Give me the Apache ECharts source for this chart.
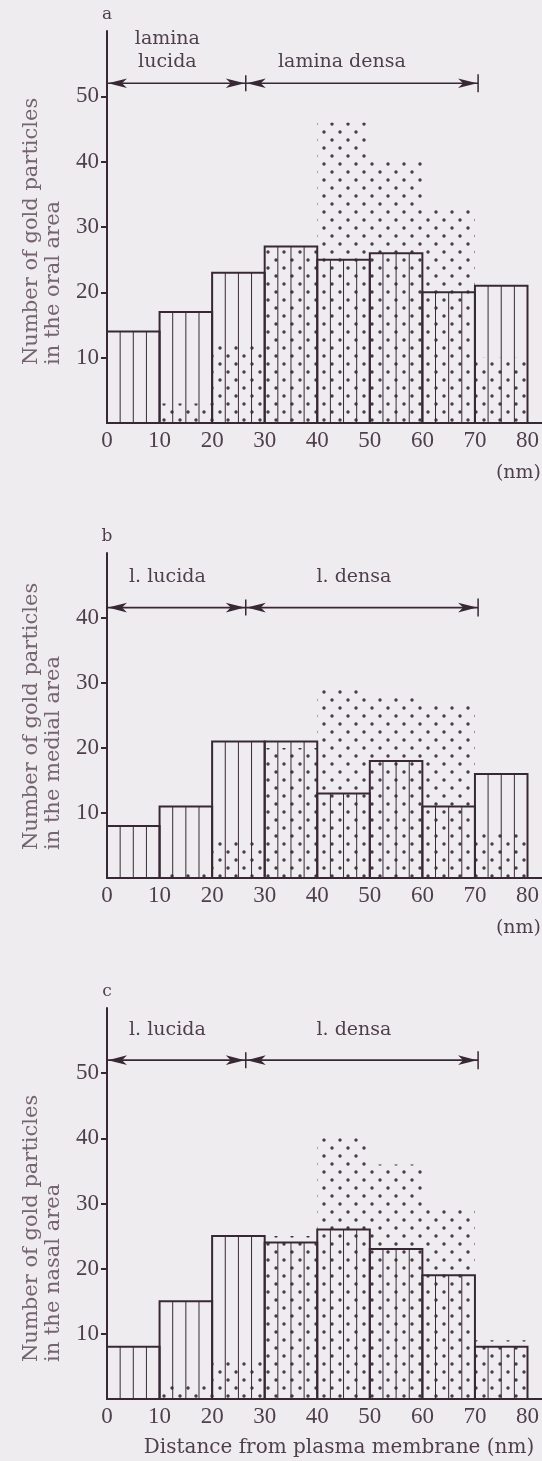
<!DOCTYPE html>
<html>
<head>
<meta charset="utf-8">
<script src="https://cdn.jsdelivr.net/npm/echarts@6/dist/echarts.min.js"></script>
<style>
  html, body { margin: 0; padding: 0; background: #efecef; }
  #chart { width: 542px; height: 1461px; }
</style>
</head>
<body>
<div id="chart"></div>
<script>
// bin edges (nm)
const binEdges = [0, 10, 20, 30, 40, 50, 60, 70, 80];
const xTicks = [0, 10, 20, 30, 40, 50, 60, 70, 80];

// a: oral area
const oralHatched = [14, 17, 23, 27, 25, 26, 20, 21];
const oralDotted = [0, 3, 12, 27, 46, 40, 33, 10];
const oralTicks = [10, 20, 30, 40, 50];

// b: medial area
const medialHatched = [8, 11, 21, 21, 13, 18, 11, 16];
const medialDotted = [0, 1, 6, 20, 29, 28, 27, 7];
const medialTicks = [10, 20, 30, 40];

// c: nasal area
const nasalHatched = [8, 15, 25, 24, 26, 23, 19, 8];
const nasalDotted = [0, 2, 6, 25, 40, 36, 29, 9];
const nasalTicks = [10, 20, 30, 40, 50];

// lamina lucida / lamina densa boundaries (nm) and arrow heights
const zoneEdges = [0, 26.4, 70.6];
const arrowLevels = [52, 41.6, 52];

const ink = '#382835';
const tickInk = '#4f3e4c';
const nameInk = '#76646f';
const bg = '#efecef';

// dotted fill
const tile = document.createElement('canvas');
tile.width = 16; tile.height = 16;
const tctx = tile.getContext('2d');
tctx.fillStyle = '#4a3848';
[[4, 4], [12, 12]].forEach(function (p) {
  tctx.beginPath(); tctx.arc(p[0], p[1], 1.7, 0, Math.PI * 2); tctx.fill();
});
const dotFill = { image: tile, repeat: 'repeat' };

function binData(values) {
  return values.map(function (v, i) { return [binEdges[i], binEdges[i + 1], v]; });
}

function renderHatched(params, api) {
  const p0 = api.coord([api.value(0), 0]);
  const p1 = api.coord([api.value(1), api.value(2)]);
  const w = p1[0] - p0[0];
  const children = [];
  for (let k = 1; k < 4; k++) {
    const x = p0[0] + w * k / 4;
    children.push({ type: 'line', shape: { x1: x, y1: p0[1], x2: x, y2: p1[1] },
      style: { stroke: ink, lineWidth: 1 } });
  }
  children.push({ type: 'rect', shape: { x: p0[0], y: p1[1], width: w, height: p0[1] - p1[1] },
    style: { fill: 'none', stroke: ink, lineWidth: 2 } });
  return { type: 'group', children: children };
}

function renderDotted(params, api) {
  if (!api.value(2)) return null;
  const p0 = api.coord([api.value(0), 0]);
  const p1 = api.coord([api.value(1), api.value(2)]);
  return { type: 'rect', shape: { x: p0[0], y: p1[1], width: p1[0] - p0[0], height: p0[1] - p1[1] },
    style: { fill: dotFill, stroke: null } };
}

function arrowHead(tx, y, dir) {
  const L = 19, h = 4.8, n = 5;
  return { type: 'polygon', shape: { points: [[tx, y], [tx - dir * L, y - h], [tx - dir * (L - n), y], [tx - dir * L, y + h]] },
    style: { fill: ink } };
}

function makeArrowRenderer(labels, gap) {
  return function (params, api) {
    const a = api.coord([api.value(0), api.value(3)]);
    const b = api.coord([api.value(1), api.value(3)]);
    const c = api.coord([api.value(2), api.value(3)]);
    const y = a[1];
    const font = '19px "DejaVu Serif"';
    return { type: 'group', children: [
      { type: 'line', shape: { x1: a[0], y1: y, x2: c[0], y2: y }, style: { stroke: ink, lineWidth: 1.6 } },
      { type: 'line', shape: { x1: b[0], y1: y - 8, x2: b[0], y2: y + 8 }, style: { stroke: ink, lineWidth: 1.5 } },
      { type: 'line', shape: { x1: c[0], y1: y - 9, x2: c[0], y2: y + 9 }, style: { stroke: ink, lineWidth: 1.5 } },
      arrowHead(a[0] + 1, y, -1), arrowHead(b[0] - 1, y, 1), arrowHead(b[0] + 1, y, -1), arrowHead(c[0] - 1, y, 1),
      { type: 'text', x: (a[0] + b[0]) / 2 - 9, y: y - gap,
        style: { text: labels[0], font: font, fill: tickInk, align: 'center', verticalAlign: 'bottom', lineHeight: 23 } },
      { type: 'text', x: (b[0] + c[0]) / 2 + labels[2], y: y - gap,
        style: { text: labels[1], font: font, fill: tickInk, align: 'center', verticalAlign: 'bottom', lineHeight: 23 } }
    ] };
  };
}

const panels = [
  { top: 31, height: 392, max: 60, ticks: oralTicks, hatched: oralHatched, dotted: oralDotted,
    labels: ['lamina\nlucida', 'lamina densa', -20], gap: 10, letter: 'a', area: 'oral' },
  { top: 553, height: 325, max: 50, ticks: medialTicks, hatched: medialHatched, dotted: medialDotted,
    labels: ['l. lucida', 'l. densa', -8], gap: 19, letter: 'b', area: 'medial' },
  { top: 1008, height: 391, max: 60, ticks: nasalTicks, hatched: nasalHatched, dotted: nasalDotted,
    labels: ['l. lucida', 'l. densa', -8], gap: 19, letter: 'c', area: 'nasal' }
];

const left = 107;
const xMax = 82.7;
const numFont = 'Liberation Serif';

const grid = [], xAxis = [], yAxis = [], series = [], graphic = [];
panels.forEach(function (p, i) {
  grid.push({ left: left, right: 0, top: p.top, height: p.height });
  xAxis.push({
    type: 'value', gridIndex: i, min: 0, max: xMax, interval: 10,
    axisLine: { lineStyle: { color: ink, width: 2 } },
    axisTick: { show: false },
    splitLine: { show: false },
    axisLabel: { customValues: xTicks, margin: 6, color: tickInk, fontFamily: numFont, fontSize: 23 }
  });
  yAxis.push({
    type: 'value', gridIndex: i, min: 0, max: p.max, interval: 10,
    axisLine: { show: true, lineStyle: { color: ink, width: 2 } },
    axisTick: { show: true, customValues: p.ticks, length: 6, lineStyle: { color: ink, width: 2 } },
    splitLine: { show: false },
    axisLabel: { customValues: p.ticks, margin: 8, color: tickInk, fontFamily: numFont, fontSize: 23 }
  });
  series.push({
    type: 'custom', xAxisIndex: i, yAxisIndex: i, z: 1,
    renderItem: renderDotted, encode: { x: [0, 1], y: 2 }, data: binData(p.dotted), silent: true
  });
  series.push({
    type: 'custom', xAxisIndex: i, yAxisIndex: i, z: 2,
    renderItem: renderHatched, encode: { x: [0, 1], y: 2 }, data: binData(p.hatched), silent: true
  });
  series.push({
    type: 'custom', xAxisIndex: i, yAxisIndex: i, z: 3,
    renderItem: makeArrowRenderer(p.labels, p.gap), encode: { x: [0, 1, 2], y: 3 },
    data: [[zoneEdges[0], zoneEdges[1], zoneEdges[2], arrowLevels[i]]], silent: true
  });
  graphic.push({ type: 'text', x: left, y: p.top - 8,
    style: { text: p.letter, font: '17px "DejaVu Serif"', fill: tickInk, align: 'center', verticalAlign: 'bottom' } });
});

// y axis titles (two left-aligned lines, rotated)
const nameStarts = [365, 850, 1362];
panels.forEach(function (p, i) {
  graphic.push({ type: 'text', x: 32, y: nameStarts[i], rotation: Math.PI / 2,
    style: { text: 'Number of gold particles', font: '21px "DejaVu Serif"', fill: nameInk, align: 'left', verticalAlign: 'middle' } });
  graphic.push({ type: 'text', x: 54, y: nameStarts[i], rotation: Math.PI / 2,
    style: { text: 'in the ' + p.area + ' area', font: '21px "DejaVu Serif"', fill: nameInk, align: 'left', verticalAlign: 'middle' } });
});
graphic.push({ type: 'text', x: 541, y: 473,
  style: { text: '(nm)', font: '19px "DejaVu Serif"', fill: tickInk, align: 'right', verticalAlign: 'middle' } });
graphic.push({ type: 'text', x: 541, y: 928,
  style: { text: '(nm)', font: '19px "DejaVu Serif"', fill: tickInk, align: 'right', verticalAlign: 'middle' } });
graphic.push({ type: 'text', x: 339, y: 1448,
  style: { text: 'Distance from plasma membrane (nm)', font: '20px "DejaVu Serif"', fill: tickInk, align: 'center', verticalAlign: 'middle' } });

const chart = echarts.init(document.getElementById('chart'), null, { renderer: 'canvas' });
chart.setOption({
  backgroundColor: bg,
  animation: false,
  grid: grid,
  xAxis: xAxis,
  yAxis: yAxis,
  series: series,
  graphic: graphic
});
</script>
</body>
</html>
